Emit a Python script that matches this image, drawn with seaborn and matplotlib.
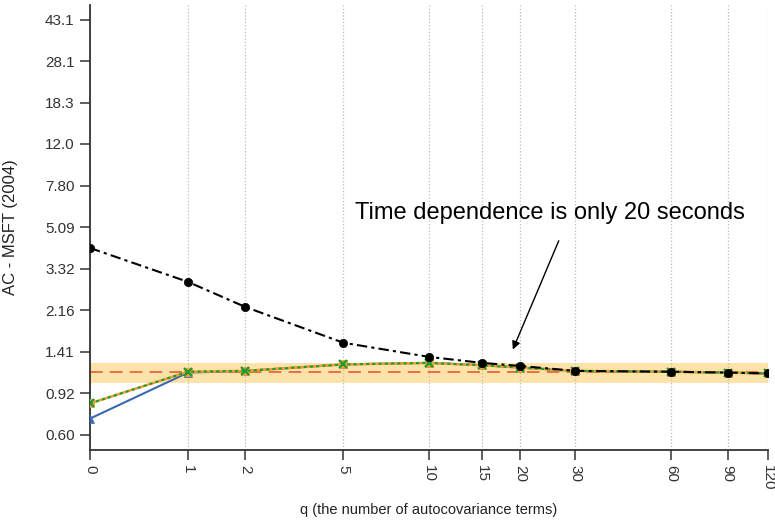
import numpy as np
import pandas as pd
import matplotlib
matplotlib.use('Agg')
import matplotlib.pyplot as plt
import seaborn as sns

# q values and autocovariance-corrected estimates
q_vals = [0, 1, 2, 5, 10, 15, 20, 30, 60, 90, 120]
black_vals = [4.11, 2.90, 2.24, 1.55, 1.34, 1.26, 1.22, 1.16, 1.15, 1.14, 1.13]
green_vals = [0.83, 1.15, 1.16, 1.24, 1.26, 1.23, 1.20, 1.16, 1.15, 1.14, 1.13]
orange_vals = [0.83, 1.15, 1.16, 1.24, 1.26, 1.23, 1.20, 1.16, 1.15, 1.14, 1.13]
blue_vals = [0.71, 1.14, 1.16, 1.24, 1.26, 1.23, 1.20, 1.16, 1.15, 1.14, 1.13]
ref_level = 1.15
band_lo, band_hi = 1.02, 1.26
y_ticks = [0.60, 0.92, 1.41, 2.16, 3.32, 5.09, 7.80, 12.0, 18.3, 28.1, 43.1]
y_labels = ['0.60', '0.92', '1.41', '2.16', '3.32', '5.09', '7.80', '12.0', '18.3', '28.1', '43.1']

sns.set_style('white')
plt.rcParams['font.family'] = ['Liberation Sans', 'DejaVu Sans']

fig = plt.figure(figsize=(7.75, 5.25), dpi=100)
ax = fig.add_axes([90/775, 75/525, 678/775, 445/525])

ax.axhspan(band_lo, band_hi, color='#fde2aa', zorder=0, lw=0)
ax.axhline(ref_level, color='#e8663d', lw=1.3, dashes=(7, 4), zorder=1)

df = pd.DataFrame({'q': q_vals, 'black': black_vals, 'green': green_vals,
                   'orange': orange_vals, 'blue': blue_vals})

sns.lineplot(data=df, x='q', y='blue', ax=ax, color='#3a68b0', lw=1.5,
             marker='^', markersize=6, markeredgecolor='#3a68b0',
             markeredgewidth=0.5, zorder=3)
sns.lineplot(data=df, x='q', y='orange', ax=ax, color='#f2a22c', lw=1.8,
             marker='s', markersize=6, markeredgecolor='#f2a22c',
             markeredgewidth=0.5, zorder=4)
sns.lineplot(data=df, x='q', y='green', ax=ax, color='#1e9a36', lw=1.5,
             marker='x', markersize=6, markeredgecolor='#1e9a36',
             markeredgewidth=1.6, zorder=5)
ax.lines[-1].set_dashes((1.5, 1.5))
sns.lineplot(data=df, x='q', y='black', ax=ax, color='black', lw=1.5,
             marker='o', markersize=6, markeredgecolor='black',
             markeredgewidth=0.5, zorder=6)
ax.lines[-1].set_dashes((5, 2, 1.5, 2))

ax.set_xscale('function', functions=(np.log1p, np.expm1))
ax.set_yscale('log')
ax.set_xlim(0, 120)
ax.set_ylim(0.514, 50.1)

ax.set_xticks(q_vals)
ax.set_xticklabels([str(q) for q in q_vals], rotation=270, fontsize=11, color='#333333')
ax.set_yticks(y_ticks)
ax.set_yticklabels(y_labels, fontsize=11, color='#333333')
ax.yaxis.set_minor_locator(matplotlib.ticker.NullLocator())
ax.xaxis.set_minor_locator(matplotlib.ticker.NullLocator())
ax.tick_params(axis='both', direction='out', length=7, width=1.1, color='#333333',
               bottom=True, left=True, pad=4)

ax.grid(axis='x', color='#bbbbbb', ls=':', lw=0.9)
ax.grid(axis='y', visible=False)
for s in ['top', 'right']:
    ax.spines[s].set_visible(False)
for s in ['left', 'bottom']:
    ax.spines[s].set_color('#333333')
    ax.spines[s].set_linewidth(1.3)

ax.set_xlabel('q (the number of autocovariance terms)', fontsize=10.5, color='#222222')
ax.set_ylabel('AC - MSFT (2004)', fontsize=12, color='#222222')
ax.xaxis.set_label_coords(0.5, -0.118)
ax.yaxis.set_label_coords(-0.106, 0.5)

ax.text(0.678, 0.533, 'Time dependence is only 20 seconds', transform=ax.transAxes,
        ha='center', va='center', fontsize=17, color='black')
ax.annotate('', xy=(0.622, 0.220), xytext=(0.693, 0.476),
            xycoords='axes fraction', textcoords='axes fraction',
            arrowprops=dict(arrowstyle='-|>', color='black', lw=1, mutation_scale=12))

fig.savefig('out.png', dpi=100)
